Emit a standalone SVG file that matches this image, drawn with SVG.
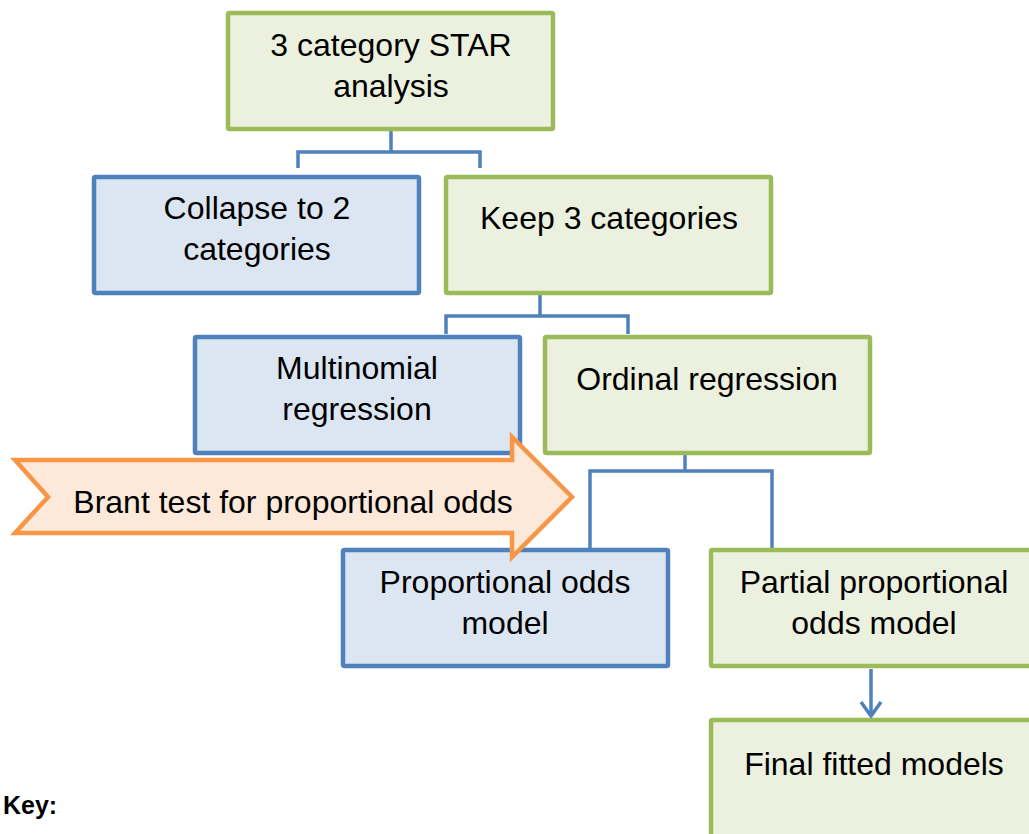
<svg xmlns="http://www.w3.org/2000/svg" width="1029" height="834" viewBox="0 0 1029 834">
  <style>
    .green { fill: #EBF1DE; stroke: #9BBB59; stroke-width: 4.5; }
    .blue { fill: #DCE6F2; stroke: #4F81BD; stroke-width: 4.5; }
    .lbl { font-family: "Liberation Sans", Arial, sans-serif; font-size: 32px; fill: #000; text-anchor: middle; }
    .conn { fill: none; stroke: #4F81BD; stroke-width: 3.5; }
    .key { font-family: "Liberation Sans", Arial, sans-serif; font-size: 25px; font-weight: bold; fill: #000; }
  </style>

  <!-- connectors -->
  <g id="connectors">
    <path class="conn" d="M391,131 V152 M298,168 V152 H480 V168"/>
    <path class="conn" d="M540,294 V316 M446,334 V316 H628 V334"/>
    <path class="conn" d="M685,454 V471 M590,548 V471 H772 V548"/>
    <path class="conn" d="M871,669 V716"/>
    <path class="conn" d="M861,702 L871,716 L881,702"/>
  </g>

  <g id="star">
    <rect class="green" x="228" y="13" width="325" height="116" rx="1.5"/>
    <text class="lbl" x="391" y="56">3 category STAR</text>
    <text class="lbl" x="391" y="97">analysis</text>
  </g>

  <g id="collapse">
    <rect class="blue" x="94" y="177" width="325" height="116" rx="1.5"/>
    <text class="lbl" x="257" y="219">Collapse to 2</text>
    <text class="lbl" x="257" y="260">categories</text>
  </g>

  <g id="keep">
    <rect class="green" x="446" y="177" width="325" height="116" rx="1.5"/>
    <text class="lbl" x="609" y="229">Keep 3 categories</text>
  </g>

  <g id="multinomial">
    <rect class="blue" x="195" y="337" width="325" height="116" rx="1.5"/>
    <text class="lbl" x="357" y="379">Multinomial</text>
    <text class="lbl" x="357" y="420">regression</text>
  </g>

  <g id="ordinal">
    <rect class="green" x="545" y="337" width="325" height="116" rx="1.5"/>
    <text class="lbl" x="707" y="390">Ordinal regression</text>
  </g>

  <g id="proportional">
    <rect class="blue" x="343" y="550" width="325" height="116" rx="1.5"/>
    <text class="lbl" x="505" y="593">Proportional odds</text>
    <text class="lbl" x="505" y="634">model</text>
  </g>

  <g id="partial">
    <rect class="green" x="711" y="550" width="325" height="116" rx="1.5"/>
    <text class="lbl" x="874" y="593">Partial proportional</text>
    <text class="lbl" x="874" y="634">odds model</text>
  </g>

  <g id="final">
    <rect class="green" x="711" y="720" width="325" height="130" rx="1.5"/>
    <text class="lbl" x="874" y="775">Final fitted models</text>
  </g>

  <g id="brant">
    <polygon points="15,460 512,460 512,437 572,497 512,557 512,533 15,533 48,497"
             fill="#FDE9D9" stroke="#F79646" stroke-width="4.5" stroke-linejoin="miter"/>
    <text class="lbl" x="293" y="513">Brant test for proportional odds</text>
  </g>

  <g id="key">
    <text class="key" x="3" y="814">Key:</text>
  </g>
</svg>
